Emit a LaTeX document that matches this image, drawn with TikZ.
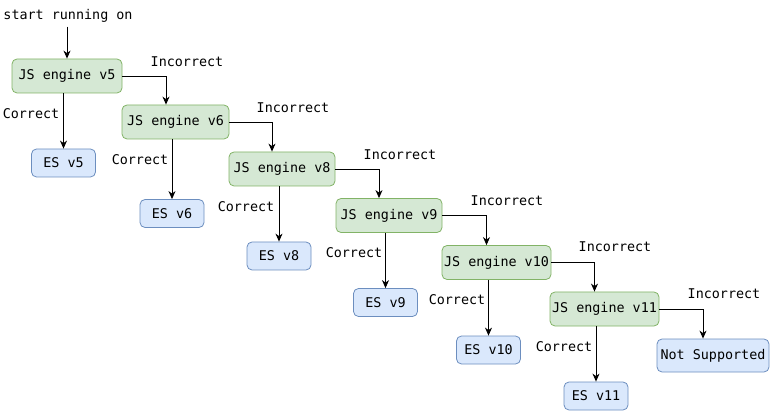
\documentclass[tikz,border=0pt]{standalone}
\usepackage{fontspec}
\setmainfont{DejaVu Sans Mono}
\usetikzlibrary{arrows.meta}
\definecolor{gfill}{HTML}{D5E8D4}
\definecolor{gline}{HTML}{82B366}
\definecolor{bfill}{HTML}{DAE8FC}
\definecolor{bline}{HTML}{6C8EBF}
\tikzset{
  every node/.style={font=\fontsize{13.4}{16}\selectfont, inner sep=0pt},
  jsbox/.style={draw=gline, fill=gfill, rounded corners=5pt, minimum height=34pt, line width=0.8pt},
  esbox/.style={draw=bline, fill=bfill, rounded corners=5pt, minimum width=64pt, minimum height=28pt, line width=0.8pt},
  conn/.style={draw=black, line width=0.9pt, -{Stealth[length=8pt,width=7pt,inset=2.5pt]}},
  lbl/.style={anchor=center},
}
\begin{document}
\begin{tikzpicture}[x=1pt,y=-1pt]
\useasboundingbox (0,0) rectangle (770,411);
\node[lbl] (start) at (68,16) {start running on};
\node[jsbox, minimum width=110pt] (js5) at (67,76) {JS engine v5};
\node[jsbox, minimum width=107pt] (js6) at (175.5,122) {JS engine v6};
\node[jsbox, minimum width=106pt] (js8) at (282,169) {JS engine v8};
\node[jsbox, minimum width=106pt] (js9) at (389,215.5) {JS engine v9};
\node[jsbox, minimum width=109pt] (js10) at (496.5,262.5) {JS engine v10};
\node[jsbox, minimum width=109pt] (js11) at (604.5,309) {JS engine v11};
\node[esbox] (es5) at (63.5,163) {ES v5};
\node[esbox] (es6) at (172,213.5) {ES v6};
\node[esbox] (es8) at (279,256) {ES v8};
\node[esbox] (es9) at (385.5,302.5) {ES v9};
\node[esbox] (es10) at (488.5,350) {ES v10};
\node[esbox] (es11) at (596,396) {ES v11};
\node[esbox, minimum width=112pt, minimum height=33pt] (ns) at (713,355.5) {Not Supported};
% start arrow
\draw[conn] ([yshift=-4pt]start.south -| js5.north) -- (js5.north);
% correct arrows
\draw[conn] (js5.south -| es5.north) -- (es5.north);
\draw[conn] (js6.south -| es6.north) -- (es6.north);
\draw[conn] (js8.south -| es8.north) -- (es8.north);
\draw[conn] (js9.south -| es9.north) -- (es9.north);
\draw[conn] (js10.south -| es10.north) -- (es10.north);
\draw[conn] (js11.south -| es11.north) -- (es11.north);
% incorrect arrows
\draw[conn] (js5.east) -| ([xshift=-9.5pt]js6.north);
\draw[conn] (js6.east) -| ([xshift=-10pt]js8.north);
\draw[conn] (js8.east) -| ([xshift=-10pt]js9.north);
\draw[conn] (js9.east) -| ([xshift=-10pt]js10.north);
\draw[conn] (js10.east) -| ([xshift=-10pt]js11.north);
\draw[conn] (js11.east) -| ([xshift=-10pt]ns.north);
% labels
\node[lbl] (i5) at (187,62) {Incorrect};
\node[lbl] (i6) at (293,108) {Incorrect};
\node[lbl] (i8) at (400,155) {Incorrect};
\node[lbl] (i9) at (507,201) {Incorrect};
\node[lbl] (i10) at (615,247) {Incorrect};
\node[lbl] (i11) at (724,294) {Incorrect};
\node[lbl] (c5) at (31,114) {Correct};
\node[lbl] (c6) at (140,160) {Correct};
\node[lbl] (c8) at (246,207) {Correct};
\node[lbl] (c9) at (354,253) {Correct};
\node[lbl] (c10) at (457,300) {Correct};
\node[lbl] (c11) at (564,347) {Correct};
\end{tikzpicture}
\end{document}
